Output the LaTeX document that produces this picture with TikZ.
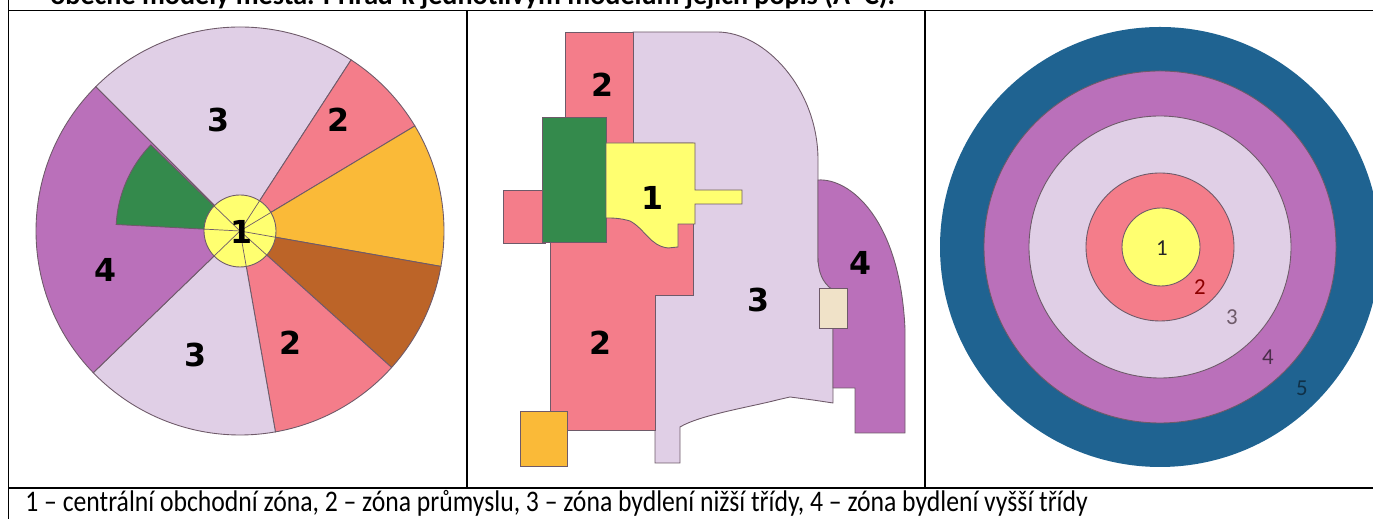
\documentclass[tikz,border=0pt]{standalone}
\usepackage{fontspec}
\setmainfont{Carlito}
\newfontfamily\digitfont{DejaVu Sans}
\definecolor{LowClass}{RGB}{224,207,230}
\definecolor{Industry}{RGB}{244,125,138}
\definecolor{Business}{RGB}{255,255,112}
\definecolor{HighClass}{RGB}{186,112,186}
\definecolor{ParkGreen}{RGB}{52,138,76}
\definecolor{WholesaleColor}{RGB}{250,186,56}
\definecolor{HeavyColor}{RGB}{188,100,40}
\definecolor{CommuterColor}{RGB}{31,99,145}
\definecolor{SuburbColor}{RGB}{240,226,200}
\definecolor{ZoneLine}{RGB}{110,90,105}
\usepackage{tikz}
\usetikzlibrary{positioning}
\tikzstyle{zone} = [draw=ZoneLine, line width=0.5pt]
\tikzstyle{zonenum} = [font=\digitfont\bfseries\fontsize{18}{18}\selectfont, inner sep=0pt]
\tikzstyle{ringnum} = [font=\fontsize{13}{13}\selectfont, inner sep=0pt]
\tikzstyle{grid} = [line width=0.8pt, black]

\begin{document}
\begin{tikzpicture}[x=0.02cm, y=0.02cm]
        \useasboundingbox (0,0) rectangle (1373,519);

        % Sector model
        \foreach \a/\b/\c in {57/135/LowClass, 31/57/Industry, -10/31/WholesaleColor,
            -42/-10/HeavyColor, -80/-42/Industry, -136/-80/LowClass, 135/224/HighClass}
          \filldraw[zone, fill=\c] (240,288) -- ++(\a:204) arc[start angle=\a, end angle=\b, radius=204] -- cycle;
        \filldraw[zone, fill=ParkGreen] (240,288) -- ++(136:124) arc[start angle=136, end angle=177, radius=124] -- cycle;
        \filldraw[zone, fill=Business] (240,288) circle[radius=36];
        \foreach \a in {57,31,-10,-42,-80,-136,136,177}
          \draw[ZoneLine, line width=0.4pt] (240,288) -- ++(\a:36);
        \node[zonenum] (hoyt3a) at (218,399) {3};
        \node[zonenum] (hoyt2a) at (338,399) {2};
        \node[zonenum] (hoyt4) at (106,249) {4};
        \node[zonenum] (hoyt3b) at (195,164) {3};
        \node[zonenum] (hoyt2b) at (290,176) {2};
        \node[zonenum] (hoyt1) at (241,287) {1};

        % Multiple nuclei model
        \filldraw[zone, fill=LowClass] (633,487) -- (717,487) .. controls (765,487) and (818,430) .. (818,359)
          -- (818,257) -- (833,229) -- (833,116) -- (813,119) -- (790,122) -- (777,119)
          .. controls (750,112) and (700,104) .. (680,92) -- (680,56) -- (655,56) -- (655,224)
          -- (693,224) -- (693,376) -- (633,376) -- cycle;
        \filldraw[zone, fill=Industry] (565,487) rectangle (633,376);
        \filldraw[zone, fill=Industry] (550,89) -- (655,89) -- (655,224) -- (693,224) -- (693,310) -- (550,310) -- cycle;
        \filldraw[zone, fill=Industry] (503,329) rectangle (545,276);
        \filldraw[zone, fill=ParkGreen] (542,402) rectangle (606,277);
        \filldraw[zone, fill=Business] (606,376) -- (695,376) -- (695,329) -- (742,329) -- (742,315)
          -- (695,315) -- (695,295) -- (678,295) -- (678,272) -- (668,271)
          .. controls (650,273) and (645,290) .. (630,298) .. controls (620,301) and (612,301) .. (606,301) -- cycle;
        \filldraw[zone, fill=HighClass] (818,339) .. controls (850,341) and (900,300) .. (905,190) -- (905,86)
          -- (855,86) -- (855,131) -- (833,131) -- (833,229) .. controls (822,236) and (818,248) .. (818,262) -- cycle;
        \filldraw[zone, fill=SuburbColor] (819,231) rectangle (847,191);
        \filldraw[zone, fill=WholesaleColor] (520,108) rectangle (567,53);
        \node[zonenum] (multi2a) at (602,434) {2};
        \node[zonenum] (multi1) at (652,321) {1};
        \node[zonenum] (multi2b) at (600,176) {2};
        \node[zonenum] (multi3) at (758,219) {3};
        \node[zonenum] (multi4) at (860,256) {4};

        % Concentric model
        \fill[CommuterColor] (1160,272) circle[radius=220];
        \filldraw[zone, fill=HighClass] (1160,272) circle[radius=176];
        \filldraw[zone, fill=LowClass] (1160,272) circle[radius=131];
        \filldraw[zone, fill=Industry] (1160,272) circle[radius=74];
        \filldraw[zone, fill=Business] (1161,272) circle[radius=39];
        \node[ringnum, text=black!85] (ring1) at (1162,271) {1};
        \node[ringnum, text=red!55!black] (ring2) at (1200,232) {2};
        \node[ringnum, text=ZoneLine] (ring3) at (1232,202) {3};
        \node[ringnum, text=HighClass!40!black] (ring4) at (1268,162) {4};
        \node[ringnum, text=CommuterColor!50!black] (ring5) at (1302,131) {5};

        % Table
        \draw[grid] (8.5,519) -- (8.5,0);
        \draw[grid] (8.5,508.5) -- (1373,508.5);
        \draw[grid] (8.5,31) -- (1373,31);
        \draw[grid] (467,508.5) -- (467,31);
        \draw[grid] (925,508.5) -- (925,31);
        \node[anchor=base west, inner sep=0pt, font=\bfseries\fontsize{16}{16}\selectfont] (task) at (50,514)
          {obecné modely města. Přiřaď k jednotlivým modelům jejich popis (A–C).};
        \node[anchor=base west, inner sep=0pt, font=\fontsize{17}{17}\selectfont] (legend) at (25,7)
          {\scalebox{0.86}[1]{1 – centrální obchodní zóna, 2 – zóna průmyslu, 3 – zóna bydlení nižší třídy, 4 – zóna bydlení vyšší třídy}};

      \end{tikzpicture}
\end{document}
